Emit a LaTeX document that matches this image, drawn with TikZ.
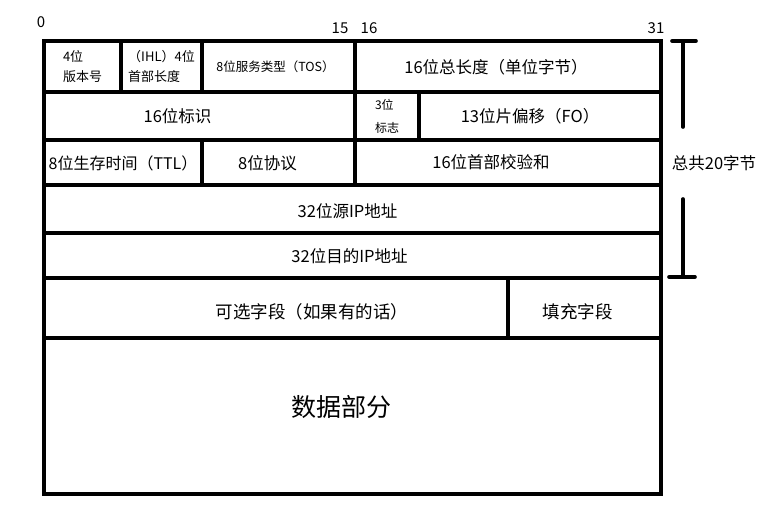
\documentclass[tikz,border=0pt]{standalone}
\usepackage{fontspec}
\setmainfont{Noto Sans CJK SC}
\usetikzlibrary{positioning,calc}

\begin{document}
\begin{tikzpicture}[x=1pt,y=-1pt,
  cell/.style={draw=black,line width=3.2pt,inner sep=0pt},
  small/.style={inner sep=0pt,font=\fontsize{13}{20}\selectfont,align=left},
  lbl/.style={inner sep=0pt,font=\fontsize{16.5}{18}\selectfont},
  bit/.style={inner sep=0pt,font=\fontsize{15}{17}\selectfont},
  bar/.style={draw=black,line width=3.6pt,line cap=round}
]
\useasboundingbox (0,0) rectangle (774,509);
% bit numbers
\node[bit] (b0) at (41,22) {0};
\node[bit] (b15) at (340,28) {15};
\node[bit] (b16) at (369,28) {16};
\node[bit] (b31) at (656,28) {31};
% row 1
\node[cell,minimum width=77,minimum height=51] (ver) at (82.5,66.5) {};
\node[small] at (ver) {4位\\版本号};
\node[cell,minimum width=81,minimum height=51] (ihl) at (161.5,66.5) {};
\node[small] at (ihl) {（IHL）4位\\首部长度};
\node[cell,minimum width=153,minimum height=51] (tos) at (278.5,66.5) {};
\node[lbl,font=\fontsize{12.5}{14}\selectfont] at ([xshift=-3]tos.center) {8位服务类型（TOS）};
\node[cell,minimum width=306,minimum height=51] (tlen) at (508,66.5) {};
\node[lbl] at ([xshift=-12,yshift=-1]tlen.center) {16位总长度（单位字节）};
% row 2
\node[cell,minimum width=311,minimum height=48] (ident) at (199.5,116) {};
\node[lbl] at ([xshift=-22]ident.center) {16位标识};
\node[cell,minimum width=64,minimum height=48] (flag) at (387,116) {};
\node[inner sep=0pt,align=left,font=\fontsize{12}{23}\selectfont] at (flag) {3位\\标志};
\node[cell,minimum width=242,minimum height=48] (frag) at (540,116) {};
\node[lbl] at ([xshift=-10]frag.center) {13位片偏移（FO）};
% row 3
\node[cell,minimum width=158,minimum height=45] (ttl) at (123,162.5) {};
\node[lbl,font=\fontsize{16}{18}\selectfont] at ([yshift=-1]ttl.center) {8位生存时间（TTL）};
\node[cell,minimum width=153,minimum height=45] (proto) at (278.5,162.5) {};
\node[lbl] at ([xshift=-11,yshift=-1]proto.center) {8位协议};
\node[cell,minimum width=306,minimum height=45] (cksum) at (508,162.5) {};
\node[lbl] at ([xshift=-17]cksum.center) {16位首部校验和};
% rows 4-5
\node[cell,minimum width=617,minimum height=48] (src) at (352.5,209) {};
\node[lbl] at ([xshift=-5,yshift=-2]src.center) {32位源IP地址};
\node[cell,minimum width=617,minimum height=45] (dst) at (352.5,255.5) {};
\node[lbl] at ([xshift=-3,yshift=-1]dst.center) {32位目的IP地址};
% row 6
\node[cell,minimum width=464,minimum height=60] (opt) at (276,308) {};
\node[lbl,font=\fontsize{17.5}{19}\selectfont] at ([xshift=36,yshift=-4]opt.center) {可选字段（如果有的话）};
\node[cell,minimum width=153,minimum height=60] (pad) at (584.5,308) {};
\node[lbl,font=\fontsize{17.5}{19}\selectfont] at ([xshift=-7,yshift=-4]pad.center) {填充字段};
% data
\node[cell,minimum width=617,minimum height=156] (data) at (352.5,416) {};
\node[inner sep=0pt,font=\fontsize{25}{27}\selectfont] at ([xshift=-11,yshift=9]data.center) {数据部分};
% 20 byte bracket
\node[lbl] (total) at (714,163) {总共20字节};
\coordinate (t1) at (683,41);
\coordinate (t2) at (683,127);
\coordinate (u1) at (683,199);
\coordinate (u2) at (683,277);
\draw[bar] (t2) -- (t1) ++(-11,0) -- ++(24,0);
\draw[bar] (u1) -- (u2) ++(-14,0) -- ++(26,0);
\end{tikzpicture}
\end{document}
